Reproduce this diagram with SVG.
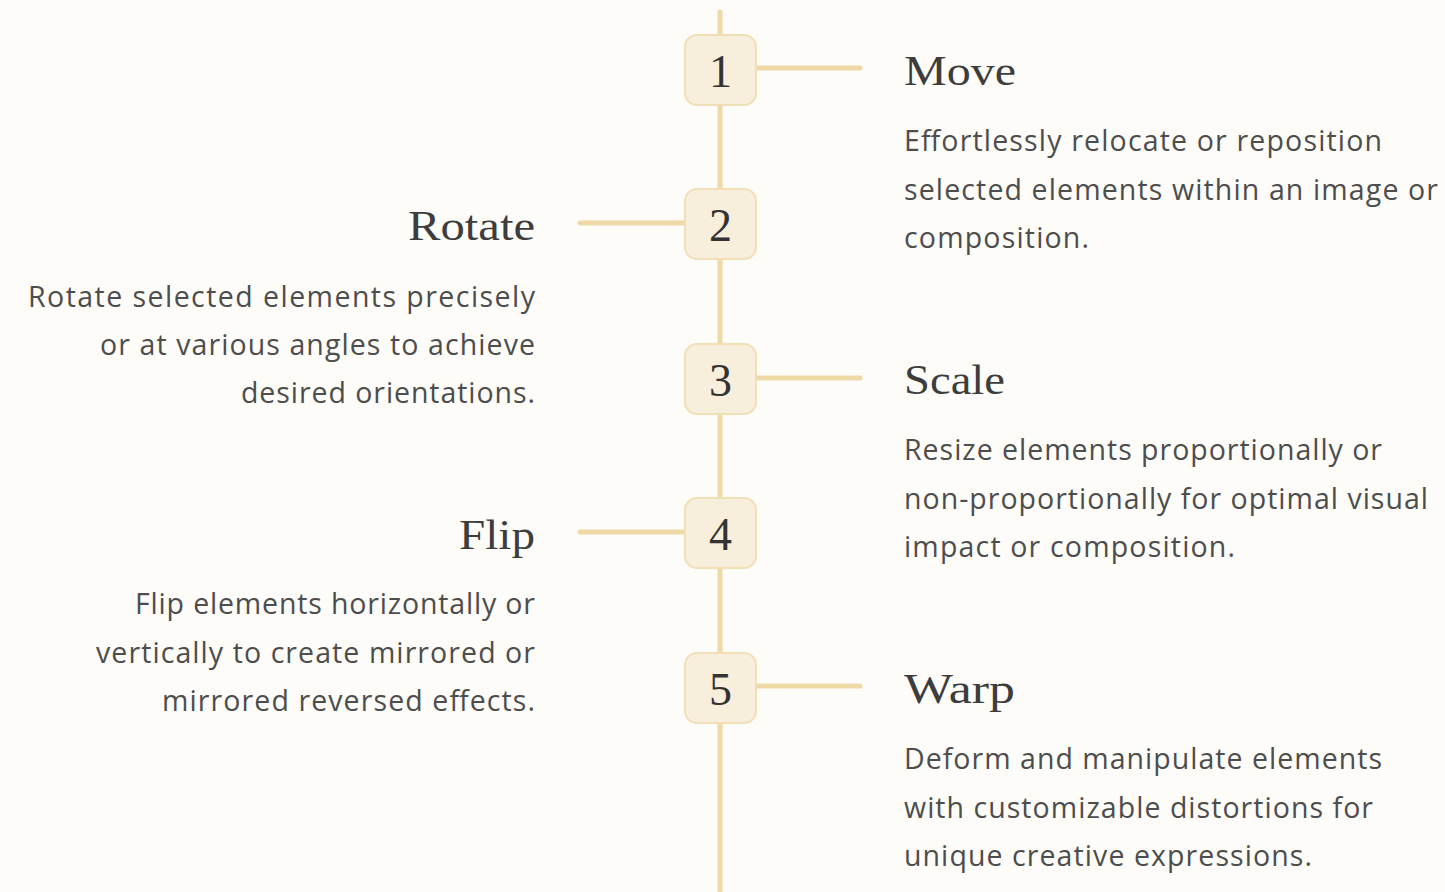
<svg xmlns="http://www.w3.org/2000/svg" width="1445" height="892" viewBox="0 0 1445 892">
<style>
.bg{fill:#fdfcf8}
.ln{stroke:#efd9a6;stroke-width:5;stroke-linecap:round;fill:none}
.box{fill:#f7eedb;stroke:#f1e0b6;stroke-width:2}
.num{font-family:"Liberation Serif",serif;font-size:46px;fill:#333;text-anchor:middle}
.ttl{font-family:"Liberation Serif",serif;font-size:42px;fill:#3d3d3d}
.body{font-family:"Open Sans","Liberation Sans",sans-serif;font-size:28.5px;fill:#4d4d4d}
.r{text-anchor:end}
</style>
<rect class="bg" width="1445" height="892"/>
<g id="connectors">
<line class="ln" x1="720" y1="12" x2="720" y2="900"/>
<line class="ln" x1="756" y1="68" x2="860" y2="68"/>
<line class="ln" x1="580" y1="223" x2="686" y2="223"/>
<line class="ln" x1="756" y1="378" x2="860" y2="378"/>
<line class="ln" x1="580" y1="532" x2="686" y2="532"/>
<line class="ln" x1="756" y1="686" x2="860" y2="686"/>
</g>
<g id="node1">
<rect class="box" x="685" y="35" width="71" height="70" rx="12"/>
<text class="num" x="720.5" y="87">1</text>
<text class="ttl" x="904" y="85" textLength="112" lengthAdjust="spacingAndGlyphs">Move</text>
<text class="body" x="904" y="151" textLength="478">Effortlessly relocate or reposition</text>
<text class="body" x="904" y="200" textLength="534">selected elements within an image or</text>
<text class="body" x="904" y="248" textLength="185">composition.</text>
</g>
<g id="node2">
<rect class="box" x="685" y="189" width="71" height="70" rx="12"/>
<text class="num" x="720.5" y="241">2</text>
<text class="ttl r" x="535" y="240" textLength="127" lengthAdjust="spacingAndGlyphs">Rotate</text>
<text class="body r" x="535" y="307" textLength="507">Rotate selected elements precisely</text>
<text class="body r" x="535" y="355" textLength="435">or at various angles to achieve</text>
<text class="body r" x="535" y="403" textLength="294">desired orientations.</text>
</g>
<g id="node3">
<rect class="box" x="685" y="344" width="71" height="70" rx="12"/>
<text class="num" x="720.5" y="396">3</text>
<text class="ttl" x="904" y="394" textLength="101" lengthAdjust="spacingAndGlyphs">Scale</text>
<text class="body" x="904" y="460" textLength="478">Resize elements proportionally or</text>
<text class="body" x="904" y="509" textLength="524">non-proportionally for optimal visual</text>
<text class="body" x="904" y="557" textLength="331">impact or composition.</text>
</g>
<g id="node4">
<rect class="box" x="685" y="498" width="71" height="70" rx="12"/>
<text class="num" x="720.5" y="550">4</text>
<text class="ttl r" x="535" y="549" textLength="76" lengthAdjust="spacingAndGlyphs">Flip</text>
<text class="body r" x="535" y="614" textLength="400">Flip elements horizontally or</text>
<text class="body r" x="535" y="663" textLength="439">vertically to create mirrored or</text>
<text class="body r" x="535" y="711" textLength="373">mirrored reversed effects.</text>
</g>
<g id="node5">
<rect class="box" x="685" y="653" width="71" height="70" rx="12"/>
<text class="num" x="720.5" y="705">5</text>
<text class="ttl" x="904" y="703" textLength="111" lengthAdjust="spacingAndGlyphs">Warp</text>
<text class="body" x="904" y="769" textLength="478">Deform and manipulate elements</text>
<text class="body" x="904" y="818" textLength="469">with customizable distortions for</text>
<text class="body" x="904" y="866" textLength="408">unique creative expressions.</text>
</g>
</svg>
